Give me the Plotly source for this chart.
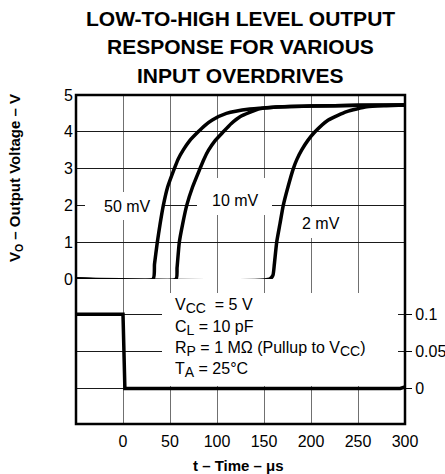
import plotly.graph_objects as go

# ---------------- data ----------------
t_50mv = [-50, 32, 33.5, 36.5, 39.5, 42.9, 47.5, 54.6, 58.5, 64, 71, 80, 87, 95, 110, 135, 160, 200, 250, 300]
v_50mv = [0, 0, 0.4, 1, 1.5, 2, 2.5, 3, 3.25, 3.5, 3.76, 4, 4.17, 4.32, 4.5, 4.62, 4.67, 4.7, 4.72, 4.73]

t_10mv = [-50, 56.4, 57.5, 59.9, 63.5, 67.8, 74, 81.9, 86, 91, 98, 106.7, 115, 124.5, 144, 160, 200, 250, 300]
v_10mv = [0, 0, 0.3, 1, 1.5, 2, 2.5, 3, 3.25, 3.5, 3.76, 4, 4.22, 4.41, 4.62, 4.67, 4.7, 4.72, 4.73]

t_2mv = [-50, 156, 159.5, 161, 163.5, 167, 170.5, 175.5, 181.2, 185, 190, 196.5, 204.3, 218.4, 238, 259.3, 280, 300]
v_2mv = [0, 0, 0.1, 0.4, 1, 1.5, 2, 2.5, 3, 3.25, 3.5, 3.76, 4, 4.32, 4.55, 4.68, 4.71, 4.73]

t_input = [-50, 0, 2, 295, 300]
v_input = [0.1, 0.1, 0, 0, 0.002]

x_ticks = [0, 50, 100, 150, 200, 250, 300]
y_ticks = [0, 1, 2, 3, 4, 5]
y2_ticks = [0, 0.05, 0.1]
y2_ticktext = ["0", "0.05", "0.1"]

curve_labels = ["50 mV", "10 mV", "2 mV"]
title_lines = ["LOW-TO-HIGH LEVEL OUTPUT", "RESPONSE FOR VARIOUS", "INPUT OVERDRIVES"]

def sub(s):
    return "<sub><span style='font-size:14px'>" + s + "</span></sub>"

cond_lines = ["V" + sub("CC") + "  = 5 V", "C" + sub("L") + " = 10 pF",
              "R" + sub("P") + " = 1 MΩ (Pullup to V" + sub("CC") + ")",
              "T" + sub("A") + " = 25°C"]

# ---------------- geometry helpers (pixel -> data) ----------------
W, H = 445, 474
L, R, T, MID, B = 76, 405, 95, 279, 424
XMIN, XMAX = -50, 300
Y2TOP, Y2BOT = 0.1477, -0.048

def tx(px):
    return (px - L) / (R - L) * (XMAX - XMIN) + XMIN

def vy(py):
    return (MID - py) / (MID - T) * 5

def ly(py):
    return Y2TOP - (py - MID) / (B - MID) * (Y2TOP - Y2BOT)

def pxp(px):
    return (px - L) / (R - L)

def pyp(py):
    return (B - py) / (B - T)

FONT = "Liberation Sans, Arial, sans-serif"
split = (B - MID) / (B - T)

fig = go.Figure()
line = dict(color="black", width=3.5, shape="spline", smoothing=0.5)
for t, v in [(t_50mv, v_50mv), (t_10mv, v_10mv), (t_2mv, v_2mv)]:
    fig.add_trace(go.Scatter(x=t, y=v, mode="lines", line=line,
                             xaxis="x", yaxis="y", showlegend=False, hoverinfo="skip"))
fig.add_trace(go.Scatter(x=t_input, y=v_input, mode="lines",
                         line=dict(color="black", width=3.5),
                         xaxis="x2", yaxis="y2", showlegend=False, hoverinfo="skip"))

grid_v = "#707070"
grid_h = "#1a1a1a"
fig.update_layout(
    width=W, height=H,
    margin=dict(l=L, r=W - R, t=T, b=H - B, autoexpand=False),
    paper_bgcolor="white", plot_bgcolor="white",
    font=dict(family=FONT, size=16, color="black"),
    xaxis=dict(domain=[0, 1], range=[XMIN, XMAX], anchor="y", tickvals=x_ticks,
               showticklabels=False, showgrid=True, gridcolor=grid_v, gridwidth=1,
               zeroline=False, showline=False, ticks="", automargin=False),
    yaxis=dict(domain=[split, 1], range=[0, 5], anchor="x", tickvals=y_ticks,
               showgrid=True, gridcolor=grid_h, gridwidth=1, zeroline=False,
               showline=False, ticks="", ticklabelstandoff=2, automargin=False,
               tickfont=dict(size=16)),
    xaxis2=dict(domain=[0, 1], range=[XMIN, XMAX], anchor="y2", tickvals=x_ticks,
                showticklabels=True, showgrid=True, gridcolor=grid_v, gridwidth=1,
                zeroline=False, showline=False, ticks="", ticklabelstandoff=6,
                automargin=False, tickfont=dict(size=16)),
    yaxis2=dict(domain=[0, split], range=[Y2BOT, Y2TOP], anchor="x2", side="right",
                tickvals=y2_ticks, ticktext=y2_ticktext, showgrid=True,
                gridcolor=grid_h, gridwidth=1, zeroline=False, showline=False,
                ticks="outside", ticklen=6, tickcolor="black", tickwidth=1,
                automargin=False, tickfont=dict(size=16)),
)

shapes = []
# white boxes hiding grid lines behind labels
boxes_upper = [(85, 162, 192, 220), (197, 272, 178, 215), (288, 357, 207, 238)]
for x0, x1, y0, y1 in boxes_upper:
    shapes.append(dict(type="rect", xref="x", yref="y", x0=tx(x0), x1=tx(x1),
                       y0=vy(y1), y1=vy(y0), fillcolor="white",
                       line=dict(width=0), layer="between"))
shapes.append(dict(type="rect", xref="x2", yref="y2", x0=tx(162), x1=tx(398),
                   y0=ly(386), y1=ly(293), fillcolor="white",
                   line=dict(width=0), layer="between"))
# frame
shapes.append(dict(type="rect", xref="paper", yref="paper", x0=0, x1=1, y0=0, y1=1,
                   line=dict(color="black", width=2.5), layer="above"))
fig.update_layout(shapes=shapes)

ann = []
label_pos = [(127, 206), (235, 200), (321, 223)]
for txt, (px, py) in zip(curve_labels, label_pos):
    ann.append(dict(text=txt, x=tx(px), y=vy(py), xref="x", yref="y",
                    showarrow=False, xanchor="center", yanchor="middle",
                    font=dict(size=16)))
cond_y = [306, 328, 349, 370]
for txt, py in zip(cond_lines, cond_y):
    ann.append(dict(text=txt, x=pxp(173), y=pyp(py), xref="paper", yref="paper",
                    showarrow=False, xanchor="left", yanchor="middle",
                    font=dict(size=16)))
title_y = [18.5, 47, 76]
for txt, py in zip(title_lines, title_y):
    ann.append(dict(text="<b>" + txt + "</b>", x=pxp(240.5), y=pyp(py),
                    xref="paper", yref="paper", showarrow=False,
                    xanchor="center", yanchor="middle", font=dict(size=21)))
ann.append(dict(text="<b>t – Time – μs</b>", x=pxp(238), y=pyp(465),
                xref="paper", yref="paper", showarrow=False,
                xanchor="center", yanchor="middle", font=dict(size=15)))
ann.append(dict(text="<b>V<sub>O</sub> – Output Voltage – V</b>", x=pxp(15),
                y=pyp(178), xref="paper", yref="paper", showarrow=False,
                textangle=-90, xanchor="center", yanchor="middle",
                font=dict(size=15)))
fig.update_layout(annotations=ann)

fig.write_html("out.html", config={"displayModeBar": False},
               post_script="document.body.style.margin='0';document.body.style.overflow='hidden';")
